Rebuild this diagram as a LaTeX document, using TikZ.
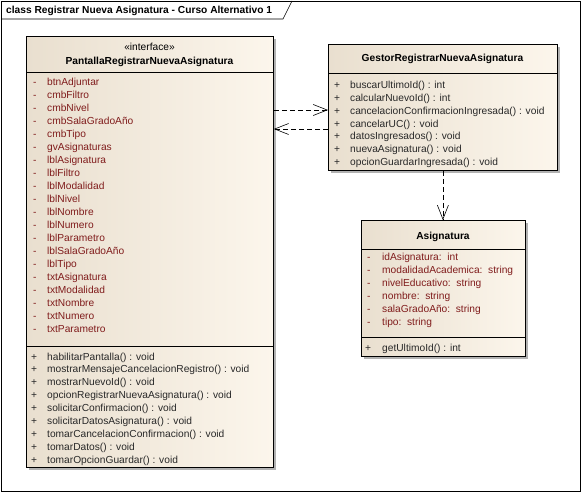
\documentclass[tikz,border=0pt]{standalone}
\usepackage{fontspec}
\setmainfont{Liberation Sans}
\usetikzlibrary{arrows.meta,shadows}

\definecolor{boxleft}{RGB}{233,223,207}
\definecolor{boxright}{RGB}{252,246,236}
\definecolor{attrcol}{RGB}{128,28,28}
\definecolor{opcol}{RGB}{40,40,40}

\tikzset{
  classbox/.style={draw=black, line width=0.8pt, left color=boxleft, right color=boxright,
    anchor=north west, inner sep=0pt,
    drop shadow={shadow xshift=3pt, shadow yshift=-3pt, fill=black!30, opacity=1}},
  txt/.style={inner sep=0pt, anchor=base west, font=\fontsize{10.2}{12}\selectfont},
  attr/.style={txt, text=attrcol},
  oper/.style={txt, text=opcol},
  title/.style={inner sep=0pt, anchor=base, font=\fontsize{10.2}{12}\selectfont\bfseries},
  dep/.style={dash pattern=on 5pt off 3pt, line width=0.6pt,
    -{Straight Barb[length=14pt,width=11pt]}},
}

\begin{document}
\begin{tikzpicture}[x=1pt,y=-1pt]
\useasboundingbox (0,0) rectangle (581,492);

% frame
\draw[line width=0.6pt] (1,1) rectangle (580,491);
\draw[line width=0.6pt] (1,19) -- (283,19) -- (292,1);
\node[title, anchor=base west] (frametitle) at (6,14) {class Registrar Nueva Asignatura - Curso Alternativo 1};

% PantallaRegistrarNuevaAsignatura
\node[classbox, minimum width=247pt, minimum height=431pt] (pantalla) at (26,36) {};
\node[title, font=\fontsize{10.2}{12}\selectfont] (stereo) at (149.5,50.5) {«interface»};
\node[title] (pantallaname) at (149.5,65) {PantallaRegistrarNuevaAsignatura};
\draw (pantalla.west |- 0,72) -- (pantalla.east |- 0,72);
\draw (pantalla.west |- 0,346) -- (pantalla.east |- 0,346);
\foreach \nm [count=\i from 0] in {btnAdjuntar, cmbFiltro, cmbNivel, cmbSalaGradoAño, cmbTipo,
  gvAsignaturas, lblAsignatura, lblFiltro, lblModalidad, lblNivel, lblNombre, lblNumero,
  lblParametro, lblSalaGradoAño, lblTipo, txtAsignatura, txtModalidad, txtNombre,
  txtNumero, txtParametro}
  {
  \node[attr] (pv\i) at (33,86+12.95*\i) {-};
  \node[attr] (pa\i) at (47,86+12.95*\i) {\nm};
  }
\foreach \nm [count=\i from 0] in {habilitarPantalla() : void,
  mostrarMensajeCancelacionRegistro() : void, mostrarNuevoId() : void,
  opcionRegistrarNuevaAsignatura() : void, solicitarConfirmacion() : void,
  solicitarDatosAsignatura() : void, tomarCancelacionConfirmacion() : void,
  tomarDatos() : void, tomarOpcionGuardar() : void}
  {
  \node[oper] (pv\i) at (31,360+12.9*\i) {+};
  \node[oper] (po\i) at (47,360+12.9*\i) {\nm};
  }

% GestorRegistrarNuevaAsignatura
\node[classbox, minimum width=229pt, minimum height=126pt] (gestor) at (328,44) {};
\node[title] (gestorname) at (442.5,62) {GestorRegistrarNuevaAsignatura};
\draw (gestor.west |- 0,73) -- (gestor.east |- 0,73);
\foreach \nm [count=\i from 0] in {buscarUltimoId() : int, calcularNuevoId() : int,
  cancelacionConfirmacionIngresada() : void, cancelarUC() : void,
  datosIngresados() : void, nuevaAsignatura() : void, opcionGuardarIngresada() : void}
  {
  \node[oper] (gv\i) at (334,89+12.75*\i) {+};
  \node[oper] (go\i) at (350,89+12.75*\i) {\nm};
  }

% Asignatura
\node[classbox, minimum width=164pt, minimum height=136pt] (asignatura) at (361,220) {};
\node[title] (asignaturaname) at (443,239) {Asignatura};
\draw (asignatura.west |- 0,249) -- (asignatura.east |- 0,249);
\draw (asignatura.west |- 0,337) -- (asignatura.east |- 0,337);
\foreach \nm [count=\i from 0] in {idAsignatura:\ \ int, modalidadAcademica:\ \ string,
  nivelEducativo:\ \ string, nombre:\ \ string, salaGradoAño:\ \ string, tipo:\ \ string}
  {
  \node[attr] (av\i) at (367,260+13*\i) {-};
  \node[attr] (aa\i) at (382,260+13*\i) {\nm};
  }
\node[oper] (ov0) at (365,351) {+};
\node[oper] (ao0) at (382,351) {getUltimoId() : int};

% dependencias
\draw[dep] (pantalla.east |- 0,110) -- (gestor.west |- 0,110);
\draw[dep] (gestor.west |- 0,129) -- (pantalla.east |- 0,129);
\draw[dep] (gestor.south) -- (gestor.south |- asignatura.north);
\end{tikzpicture}
\end{document}
